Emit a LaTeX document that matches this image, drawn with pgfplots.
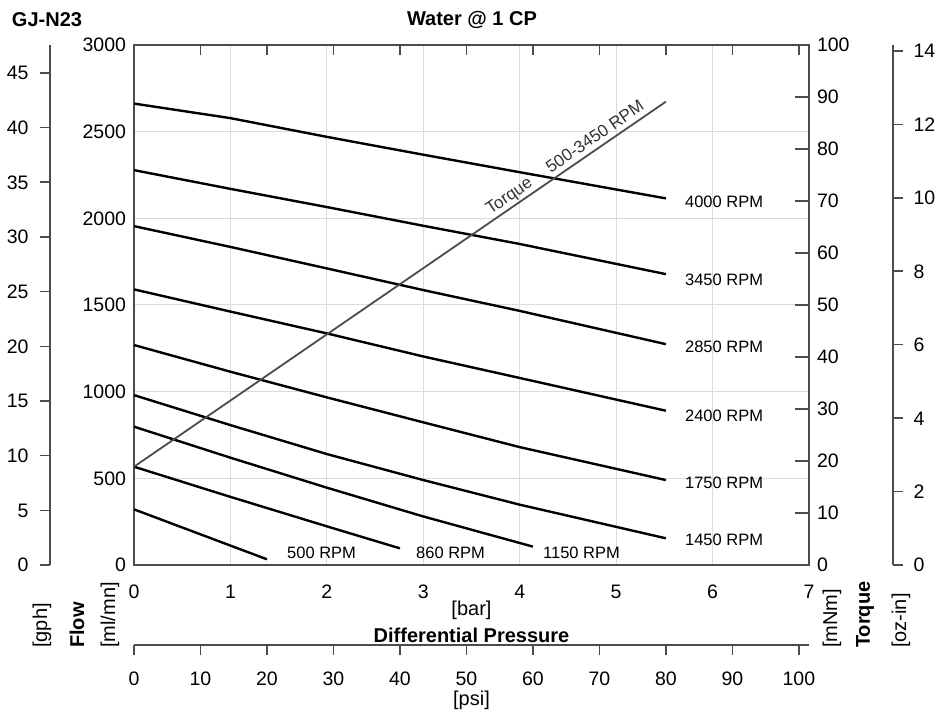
\documentclass[border=0pt]{standalone}
\usepackage{fontspec}
\setmainfont{Liberation Sans}
\usepackage{pgfplots}
\pgfplotsset{compat=1.18}

\definecolor{axisgray}{gray}{0.3}
\definecolor{gridgray}{gray}{0.86}
\definecolor{torquegray}{gray}{0.3}

\pgfplotsset{
  gjbase/.style={
    scale only axis,
    scaled ticks=false,
    typeset ticklabels with strut,
    /pgf/number format/assume math mode=true,
    /pgf/number format/1000 sep={},
    tick label style={font=\fontsize{19.5}{22}\selectfont},
    axis line style={axisgray, line width=1.5pt},
    every tick/.style={axisgray, line width=1.5pt},
  },
}
\tikzset{rpm/.style={font=\fontsize{16.5}{19}\selectfont, anchor=west, inner sep=0pt}}

\begin{document}
\begin{tikzpicture}
\useasboundingbox (0,0) rectangle (940pt,714pt);

% main axis: flow [ml/mn] vs pressure [bar]
\begin{axis}[gjbase, at={(134pt,149pt)}, anchor=south west,
  width=675pt, height=520pt,
  xmin=0, xmax=7, ymin=0, ymax=3000,
  xtick={0,...,7}, ytick={0,500,...,3000},
  major tick length=0pt,
  grid=major, grid style={gridgray, line width=1pt},
  xticklabel style={yshift=-15pt}, yticklabel style={xshift=-4.5pt, yshift=-2.5pt},
  clip=false]
\addplot[black, line width=2.4pt] coordinates {(0,2662) (1,2578) (2,2470) (3,2367) (4,2266) (5.516,2115)}
  node[rpm, pos=1, xshift=18pt, yshift=-3pt] {4000 RPM};
\addplot[black, line width=2.4pt] coordinates {(0,2278) (1,2170) (2,2065) (3,1957) (4,1852) (5.516,1678)}
  node[rpm, pos=1, xshift=18pt, yshift=-6pt] {3450 RPM};
\addplot[black, line width=2.4pt] coordinates {(0,1955) (1,1835) (2,1711) (3,1586) (4,1466) (5.516,1274)}
  node[rpm, pos=1, xshift=18pt, yshift=-3pt] {2850 RPM};
\addplot[black, line width=2.4pt] coordinates {(0,1590) (1,1462) (2,1336) (3,1203) (4,1079) (5.516,890)}
  node[rpm, pos=1, xshift=18pt, yshift=-5pt] {2400 RPM};
\addplot[black, line width=2.4pt] coordinates {(0,1269) (1,1115) (2,967) (3,823) (4,680) (5.516,490)}
  node[rpm, pos=1, xshift=18pt, yshift=-3pt] {1750 RPM};
\addplot[black, line width=2.4pt] coordinates {(0,980) (1,807) (2,640) (3,490) (4,348) (5.516,154)}
  node[rpm, pos=1, xshift=18pt, yshift=-2pt] {1450 RPM};
\addplot[black, line width=2.4pt] coordinates {(0,798) (1,619) (2,446) (3,280) (4.137,106)};
\addplot[black, line width=2.4pt] coordinates {(0,567) (1,393) (2,223) (2.758,96)};
\addplot[black, line width=2.4pt] coordinates {(0,321) (1,112) (1.379,33)};
\node[rpm] at (axis cs:1.587,71) {500 RPM};
\node[rpm] at (axis cs:2.924,71) {860 RPM};
\node[rpm] at (axis cs:4.241,69) {1150 RPM};
\end{axis}

% top psi ticks
\begin{axis}[gjbase, at={(134pt,149pt)}, anchor=south west,
  width=675pt, height=520pt,
  xmin=0, xmax=101.526, ymin=0, ymax=1,
  axis x line*=top, axis y line=none, ytick=\empty,
  xtick={10,20,...,100}, xticklabels={},
  tick align=inside, major tick length=10pt]
\end{axis}

% right torque axis [mNm]
\begin{axis}[gjbase, at={(134pt,149pt)}, anchor=south west,
  width=675pt, height=520pt,
  xmin=0, xmax=7, ymin=0, ymax=100,
  axis y line*=right, axis x line=none, xtick=\empty,
  ytick={0,10,...,100},
  tick align=inside, major tick length=14pt,
  yticklabel style={xshift=4.5pt, yshift=-2.5pt}, clip=false]
\addplot[torquegray, line width=1.8pt] coordinates {(0,18.9) (5.516,89.1)}
  node[pos=0.822, sloped, anchor=south, inner sep=1.5pt,
       font=\fontsize{17}{19}\selectfont, text=black!80] {Torque\hspace{1.25em}500-3450 RPM};
\end{axis}

% oz-in axis
\begin{axis}[gjbase, at={(892pt,149pt)}, anchor=south west,
  width=1pt, height=520pt,
  xmin=0, xmax=1, ymin=0, ymax=14.161,
  axis y line*=right, axis x line=none, xtick=\empty,
  ytick={0,2,...,14},
  tick align=outside, major tick length=10pt,
  yticklabel style={xshift=7pt, yshift=-2.5pt}]
\end{axis}

% gph axis
\begin{axis}[gjbase, at={(50pt,149pt)}, anchor=south west,
  width=1pt, height=520pt,
  xmin=0, xmax=1, ymin=0, ymax=47.55,
  axis y line*=left, axis x line=none, xtick=\empty,
  ytick={0,5,...,45},
  tick align=outside, major tick length=10pt,
  yticklabel style={xshift=-8pt, yshift=-2.5pt}]
\end{axis}

% psi axis
\begin{axis}[gjbase, at={(134pt,69pt)}, anchor=south west,
  width=675pt, height=1pt,
  xmin=0, xmax=101.526, ymin=0, ymax=1,
  axis x line*=bottom, axis y line=none, ytick=\empty,
  xtick={0,10,...,100},
  tick align=outside, major tick length=10pt,
  xticklabel style={yshift=-12pt}]
\end{axis}

\begin{scope}[font=\fontsize{20}{23}\selectfont]
\node at (471.5pt,104pt) {[bar]};
\node[font=\fontsize{20}{23}\selectfont\bfseries] at (471.5pt,79pt) {Differential Pressure};
\node at (471.5pt,14pt) {[psi]};
\node[font=\fontsize{20}{23}\selectfont\bfseries] at (472pt,694pt) {Water @ 1 CP};
\node[font=\fontsize{20}{23}\selectfont\bfseries] at (47pt,694pt) {GJ-N23};
\node[rotate=90, anchor=west, inner sep=0pt] at (42pt,66pt) {[gph]};
\node[rotate=90, anchor=west, inner sep=0pt, font=\fontsize{20}{23}\selectfont\bfseries] at (77pt,66pt) {Flow};
\node[rotate=90, anchor=west, inner sep=0pt] at (110pt,66pt) {[ml/mn]};
\node[rotate=90, anchor=west, inner sep=0pt] at (832pt,66pt) {[mNm]};
\node[rotate=90, anchor=west, inner sep=0pt, font=\fontsize{20}{23}\selectfont\bfseries] at (865pt,66pt) {Torque};
\node[rotate=90, anchor=west, inner sep=0pt] at (901pt,66pt) {[oz-in]};
\end{scope}
\end{tikzpicture}
\end{document}
